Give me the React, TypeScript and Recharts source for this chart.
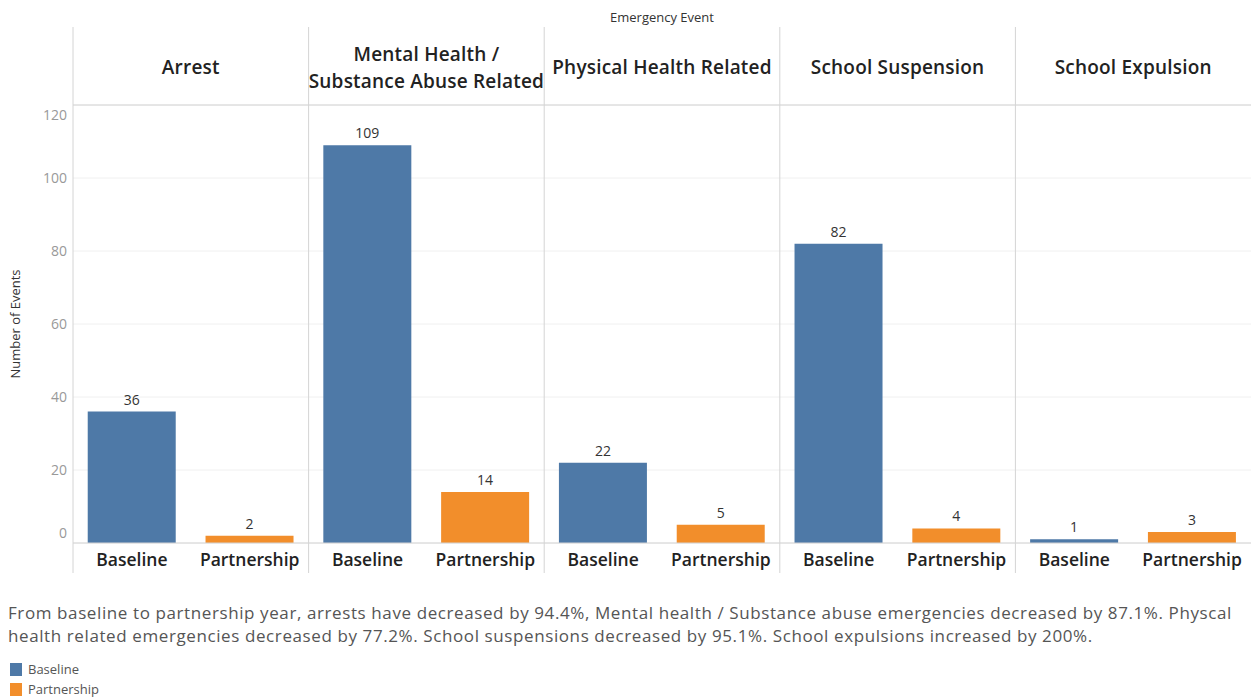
import { BarChart, Bar, XAxis, YAxis, CartesianGrid, Cell, LabelList } from 'recharts';

const events = [
  'Arrest',
  'Mental Health / Substance Abuse Related',
  'Physical Health Related',
  'School Suspension',
  'School Expulsion',
];
const periods = ['Baseline', 'Partnership'];
const baselineValues = [36, 109, 22, 82, 1];
const partnershipValues = [2, 14, 5, 4, 3];
const yTicks = [0, 20, 40, 60, 80, 100, 120];
const periodColors: Record<string, string> = { Baseline: '#4e79a7', Partnership: '#f28e2b' };

const summaryLines = [
  'From baseline to partnership year, arrests have decreased by 94.4%, Mental health / Substance abuse emergencies decreased by 87.1%. Physcal',
  'health related emergencies decreased by 77.2%. School suspensions decreased by 95.1%. School expulsions increased by 200%.',
];

const chartData = events.flatMap((event, i) => [
  { event, period: periods[0], value: baselineValues[i] },
  { event, period: periods[1], value: partnershipValues[i] },
]);

const FONT = '"Open Sans", "Noto Sans", sans-serif';
const PANEL_TOP = 27;
const PANEL_BOTTOM = 573;

const PanelHeader = (props: any) => {
  const { x, y, payload, width, visibleTicksCount } = props;
  const bw = (width || 1178) / (visibleTicksCount || 5);
  const label: string = payload.value;
  const lines = label.includes(' / ')
    ? [label.slice(0, label.indexOf(' / ') + 2), label.slice(label.indexOf(' / ') + 3)]
    : [label];
  const cy = y - 37;
  return (
    <g>
      <line x1={x - bw / 2} x2={x - bw / 2} y1={PANEL_TOP} y2={PANEL_BOTTOM} stroke="#d4d4d4" />
      <text x={x} y={cy} textAnchor="middle" fill="#222" fontFamily={FONT} fontSize={19} fontWeight={600} letterSpacing={0.2}>
        {lines.map((ln, i) => (
          <tspan key={i} x={x} dy={i === 0 ? (lines.length === 1 ? 6 : -7) : 27}>
            {ln}
          </tspan>
        ))}
      </text>
    </g>
  );
};

const PeriodTick = (props: any) => {
  const { x, y, payload } = props;
  return (
    <text x={x} y={y + 23} textAnchor="middle" fill="#222" fontFamily={FONT} fontSize={17.5} fontWeight={600}>
      {payload.value}
    </text>
  );
};

const ValueTick = (props: any) => {
  const { x, y, payload } = props;
  let shift = 5;
  if (payload.value === 120) shift = 15;
  if (payload.value === 0) shift = -5;
  return (
    <text x={x + 2} y={y + shift} textAnchor="end" fill="#999" fontFamily={FONT} fontSize={14}>
      {payload.value}
    </text>
  );
};

export default function App() {
  return (
    <div style={{ width: 1251, height: 698, position: 'relative', background: '#fff' }}>
      <style>{`body{margin:0}`}</style>
      <BarChart
        width={1251}
        height={580}
        data={chartData}
        margin={{ top: 27, right: 0, left: 0, bottom: 7 }}
        barCategoryGap="12.5%"
      >
        <CartesianGrid horizontal vertical={false} stroke="#f0f0f0" />
        <XAxis
          xAxisId="panel"
          dataKey="event"
          orientation="top"
          allowDuplicatedCategory={false}
          height={78}
          interval={0}
          tickLine={false}
          tickSize={0}
          tickMargin={0}
          axisLine={{ stroke: '#d4d4d4' }}
          tick={<PanelHeader />}
          label={{ value: 'Emergency Event', position: 'top', offset: 5, fill: '#333', fontSize: 13, fontFamily: FONT }}
        />
        <XAxis
          dataKey="period"
          height={30}
          interval={0}
          tickLine={false}
          tickSize={0}
          tickMargin={0}
          axisLine={{ stroke: '#d4d4d4' }}
          tick={<PeriodTick />}
        />
        <YAxis
          width={73}
          domain={[0, 120]}
          ticks={yTicks}
          interval={0}
          axisLine={false}
          tickLine={false}
          tick={<ValueTick />}
          label={{
            value: 'Number of Events',
            angle: -90,
            position: 'insideLeft',
            offset: 15,
            style: { textAnchor: 'middle', fill: '#333', fontSize: 13, fontFamily: FONT },
          }}
        />
        <Bar dataKey="value" isAnimationActive={false}>
          {chartData.map((d, i) => (
            <Cell key={i} fill={periodColors[d.period]} />
          ))}
          <LabelList dataKey="value" position="top" offset={7} fill="#333" fontSize={14} fontFamily={FONT} />
        </Bar>
      </BarChart>
      <div style={{ position: 'absolute', left: 8, top: 601, fontFamily: FONT, fontSize: 17, letterSpacing: 0.6, lineHeight: '23px', color: '#555', whiteSpace: 'nowrap' }}>
        {summaryLines.map((ln, i) => (
          <div key={i}>{ln}</div>
        ))}
      </div>
      <div style={{ position: 'absolute', left: 10, top: 659, fontFamily: FONT, fontSize: 13, color: '#555' }}>
        {periods.map((p) => (
          <div key={p} style={{ display: 'flex', alignItems: 'center', height: 20 }}>
            <span style={{ width: 12, height: 13, background: periodColors[p], marginRight: 6, display: 'inline-block' }} />
            {p}
          </div>
        ))}
      </div>
    </div>
  );
}
